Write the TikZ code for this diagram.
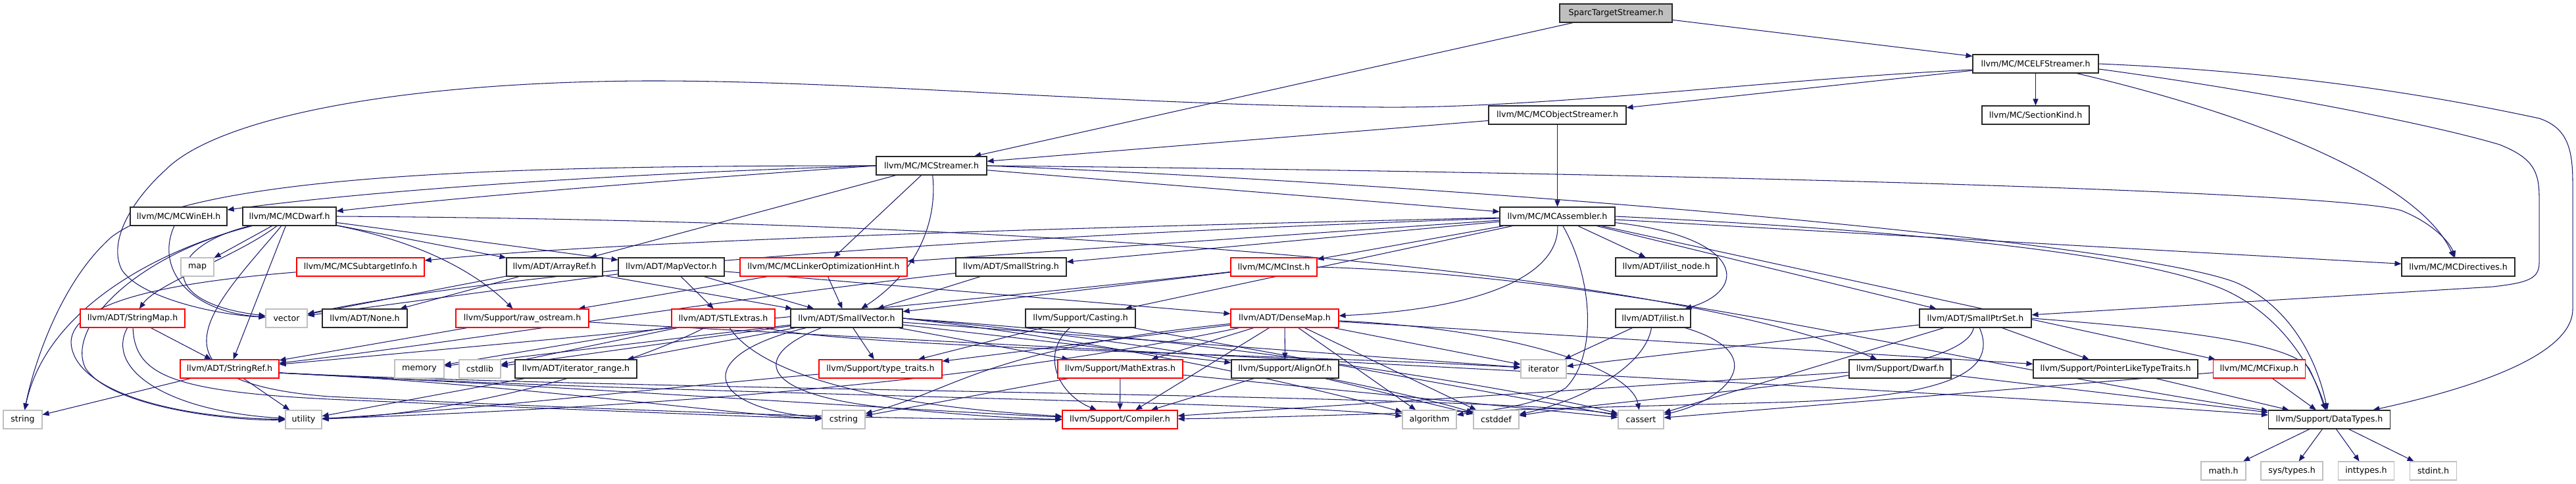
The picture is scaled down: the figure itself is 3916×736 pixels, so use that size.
\documentclass[tikz,border=0pt]{standalone}
\usepackage{fontspec}
\setmainfont{DejaVu Sans}
\usetikzlibrary{arrows.meta}
\definecolor{edgec}{RGB}{25,25,112}
\definecolor{sysgray}{RGB}{191,191,191}
\definecolor{rootfill}{RGB}{191,191,191}
\definecolor{boxline}{RGB}{40,40,40}
\pgfdeclarelayer{back}
\pgfdeclarelayer{bg}
\pgfsetlayers{back,bg,main}
\tikzset{
 box/.style={draw=boxline, line width=1.1pt, fill=white, minimum height=28pt, inner sep=0pt, font=\fontsize{12.6pt}{15pt}\selectfont},
 redbox/.style={box, draw=red},
 sysbox/.style={box, draw=sysgray},
 rootbox/.style={box, fill=rootfill},
 e/.style={draw=edgec, line width=1.05pt, -{Triangle[length=10pt,width=8pt]}},
}
\begin{document}
\begin{tikzpicture}[x=1pt,y=-1pt]
\begin{pgfonlayer}{back}
\fill[white] (0,0) rectangle (3916,736);
\end{pgfonlayer}
\useasboundingbox (0,0) rectangle (3916,736);
% nodes
\node[rootbox, minimum width=171pt] (sparc) at (2456.5,20) {SparcTargetStreamer.h};
\node[box, minimum width=191pt] (elf) at (3094.5,97) {llvm/MC/MCELFStreamer.h};
\node[box, minimum width=163pt] (seckind) at (3094.5,175) {llvm/MC/SectionKind.h};
\node[box, minimum width=209pt] (objs) at (2367.5,175) {llvm/MC/MCObjectStreamer.h};
\node[box, minimum width=168pt] (strm) at (1416,252) {llvm/MC/MCStreamer.h};
\node[box, minimum width=147pt] (wineh) at (271.5,329) {llvm/MC/MCWinEH.h};
\node[box, minimum width=142pt] (mcdwarf) at (440,329) {llvm/MC/MCDwarf.h};
\node[box, minimum width=175pt] (asm) at (2367.5,329) {llvm/MC/MCAssembler.h};
\node[sysbox, minimum width=50pt] (map) at (300,406) {map};
\node[redbox, minimum width=194pt] (subt) at (548,406) {llvm/MC/MCSubtargetInfo.h};
\node[box, minimum width=146pt] (aref) at (843,406) {llvm/ADT/ArrayRef.h};
\node[box, minimum width=161pt] (mapvec) at (1020.5,406) {llvm/ADT/MapVector.h};
\node[redbox, minimum width=254pt] (loh) at (1252,406) {llvm/MC/MCLinkerOptimizationHint.h};
\node[box, minimum width=168pt] (sstr) at (1537,406) {llvm/ADT/SmallString.h};
\node[redbox, minimum width=131pt] (inst) at (1936.5,406) {llvm/MC/MCInst.h};
\node[box, minimum width=154pt] (ilnode) at (2533,406) {llvm/ADT/ilist\_node.h};
\node[box, minimum width=172pt] (dirs) at (3737,406) {llvm/MC/MCDirectives.h};
\node[sysbox, minimum width=63pt] (vector) at (435.5,484) {vector};
\node[box, minimum width=129pt] (none) at (554.5,484) {llvm/ADT/None.h};
\node[redbox, minimum width=202pt] (raw) at (794,484) {llvm/Support/raw\_ostream.h};
\node[redbox, minimum width=159pt] (smap) at (201.5,484) {llvm/ADT/StringMap.h};
\node[redbox, minimum width=157pt] (stlx) at (1099.5,484) {llvm/ADT/STLExtras.h};
\node[box, minimum width=170pt] (svec) at (1287,484) {llvm/ADT/SmallVector.h};
\node[box, minimum width=167pt] (cast) at (1642.5,484) {llvm/Support/Casting.h};
\node[redbox, minimum width=164pt] (dmap) at (1953,484) {llvm/ADT/DenseMap.h};
\node[box, minimum width=114pt] (ilist) at (2513,484) {llvm/ADT/ilist.h};
\node[box, minimum width=170pt] (sps) at (3003,484) {llvm/ADT/SmallPtrSet.h};
\node[redbox, minimum width=150pt] (sref) at (349,561) {llvm/ADT/StringRef.h};
\node[sysbox, minimum width=75pt] (memory) at (637.5,561) {memory};
\node[sysbox, minimum width=63pt] (cstdlib) at (729.5,561) {cstdlib};
\node[box, minimum width=185pt] (itrange) at (875.5,561) {llvm/ADT/iterator\_range.h};
\node[redbox, minimum width=187pt] (ttraits) at (1338.5,561) {llvm/Support/type\_traits.h};
\node[redbox, minimum width=190pt] (mathx) at (1703,561) {llvm/Support/MathExtras.h};
\node[box, minimum width=163pt] (alignof) at (1953.5,561) {llvm/Support/AlignOf.h};
\node[sysbox, minimum width=69pt] (iterator) at (2346.5,561) {iterator};
\node[box, minimum width=155pt] (dwarfh) at (2888.5,561) {llvm/Support/Dwarf.h};
\node[box, minimum width=250pt] (ptrlike) at (3216,561) {llvm/Support/PointerLikeTypeTraits.h};
\node[redbox, minimum width=140pt] (fixup) at (3434.5,561) {llvm/MC/MCFixup.h};
\node[sysbox, minimum width=59pt] (string) at (34.5,638) {string};
\node[sysbox, minimum width=55pt] (utility) at (461.5,638) {utility};
\node[sysbox, minimum width=65pt] (cstring) at (1282.5,638) {cstring};
\node[redbox, minimum width=175pt] (compiler) at (1702.5,638) {llvm/Support/Compiler.h};
\node[sysbox, minimum width=82pt] (algorithm) at (2173,638) {algorithm};
\node[sysbox, minimum width=69pt] (cstddef) at (2274.5,638) {cstddef};
\node[sysbox, minimum width=69pt] (cassert) at (2494.5,638) {cassert};
\node[box, minimum width=185pt] (dtypes) at (3541,638) {llvm/Support/DataTypes.h};
\node[sysbox, minimum width=68pt] (math) at (3380,716) {math.h};
\node[sysbox, minimum width=94pt] (systypes) at (3484,716) {sys/types.h};
\node[sysbox, minimum width=85pt] (inttypes) at (3597,716) {inttypes.h};
\node[sysbox, minimum width=71pt] (stdint) at (3699,716) {stdint.h};
% edges
\begin{pgfonlayer}{bg}
\draw[e] (sparc) -- (strm);
\draw[e] (sparc) -- (elf);
\draw[e] (elf) -- (objs);
\draw[e] (elf) -- (seckind);
\draw[e] (elf) .. controls (3450,180) and (3680,280) .. (dirs);
\draw[e] (elf.east) .. controls (3500,110) and (3720,150) .. (3860,180) .. controls (3905,195) and (3911,230) .. (3911,280) -- (3911,470) .. controls (3911,540) and (3760,590) .. (dtypes);
\draw[e] ([yshift=-8pt]elf.east) .. controls (3450,140) and (3700,190) .. (3800,220) .. controls (3850,240) and (3860,260) .. (3860,300) -- (3860,400) .. controls (3860,425) and (3840,430) .. (3790,436) -- (sps);
\draw[e] ([yshift=-9pt]elf.west) .. controls (2700,120) and (2350,165) .. (2100,163) .. controls (1700,160) and (1300,122) .. (980,123) .. controls (600,125) and (330,180) .. (252,258) .. controls (195,310) and (165,370) .. (185,410) .. controls (210,450) and (320,478) .. (vector);
\draw[e] (objs) -- (strm);
\draw[e] (objs) -- (asm);
% MCStreamer
\draw[e] (strm.west) .. controls (1000,262) and (600,285) .. (wineh);
\draw[e] (strm.west) .. controls (1000,275) and (700,300) .. (mcdwarf);
\draw[e] (strm.west) .. controls (800,252) and (300,262) .. (170,360) .. controls (90,430) and (50,560) .. (string);
\draw[e] (strm) -- (aref);
\draw[e] (strm) -- (loh);
\draw[e] (strm) .. controls (1425,330) and (1400,410) .. (svec);
\draw[e] (strm) -- (asm);
\draw[e] (strm.east) .. controls (2500,262) and (3550,290) .. (3650,320) .. controls (3700,340) and (3725,370) .. (dirs);
\draw[e] (strm.east) .. controls (2300,285) and (3250,370) .. (3400,430) .. controls (3490,470) and (3525,560) .. (dtypes);
% MCAssembler
\draw[e] (asm) .. controls (1900,340) and (1000,360) .. (subt);
\draw[e] (asm) .. controls (1900,345) and (900,385) .. (vector);
\draw[e] (asm) -- (loh);
\draw[e] (asm) -- (sstr);
\draw[e] (asm) -- (inst);
\draw[e] (asm) -- (ilnode);
\draw[e] (asm) .. controls (2650,360) and (2660,440) .. (ilist);
\draw[e] (asm) .. controls (2370,420) and (2250,470) .. (dmap);
\draw[e] (asm) -- (cast);
\draw[e] (asm) .. controls (2420,420) and (2430,540) .. (2380,590) .. controls (2330,620) and (2250,625) .. (algorithm);
\draw[e] (asm) -- (sps);
\draw[e] (asm) -- (dirs);
\draw[e] (asm) -- (fixup);
\draw[e] (asm.east) .. controls (2900,350) and (3250,385) .. (3380,440) .. controls (3470,480) and (3515,560) .. (dtypes);
% MCDwarf
\draw[e] (mcdwarf.east) .. controls (1500,335) and (2500,400) .. (dwarfh);
\draw[e] (mcdwarf) -- (aref);
\draw[e] (mcdwarf) -- (mapvec);
\draw[e] (mcdwarf) .. controls (650,370) and (730,420) .. (raw);
\draw[e] (mcdwarf) -- (map);
\draw[e] (mcdwarf) .. controls (360,390) and (240,430) .. (smap);
\draw[e] (mcdwarf) .. controls (250,375) and (235,460) .. (vector);
\draw[e] (mcdwarf) -- (sref);
\draw[e] (mcdwarf) .. controls (240,380) and (70,470) .. (string);
\draw[e] (mcdwarf) .. controls (330,460) and (200,580) .. (500,603) .. controls (900,622) and (1300,638) .. (compiler);
\draw[e] (mcdwarf) .. controls (200,390) and (100,500) .. (130,560) .. controls (170,620) and (350,640) .. (utility);
\draw[e] (wineh) .. controls (235,410) and (290,475) .. (vector);
\draw[e] (subt) .. controls (250,430) and (110,460) .. (108,520) .. controls (110,590) and (250,635) .. (utility);
% level 4
\draw[e] (aref) -- (vector);
\draw[e] (aref) -- (none);
\draw[e] (aref) -- (svec);
\draw[e] (mapvec) -- (vector);
\draw[e] (mapvec) -- (stlx);
\draw[e] (mapvec) -- (dmap);
\draw[e] (mapvec) -- (svec);
\draw[e] (loh) -- (svec);
\draw[e] (loh) -- (raw);
\draw[e] (sstr) -- (svec);
\draw[e] (sstr) .. controls (1100,455) and (700,520) .. (sref);
\draw[e] (inst) -- (svec);
\draw[e] (inst) .. controls (1500,455) and (800,520) .. (sref);
\draw[e] (inst.east) .. controls (2500,420) and (3000,560) .. (dtypes);
% level 5
\draw[e] (raw) -- (sref);
\draw[e] (raw) .. controls (1500,525) and (2900,590) .. (dtypes);
\draw[e] (smap) -- (sref);
\draw[e] (smap) .. controls (160,560) and (250,625) .. (utility);
\draw[e] (smap) .. controls (205,570) and (260,595) .. (500,607) .. controls (800,620) and (1100,632) .. (cstring);
\draw[e] (svec) -- (itrange);
\draw[e] (svec) -- (memory);
\draw[e] (svec) -- (cstdlib);
\draw[e] (svec) -- (ttraits);
\draw[e] (svec) -- (mathx);
\draw[e] (svec) -- (alignof);
\draw[e] (svec) -- (iterator);
\draw[e] (svec) .. controls (1140,540) and (1150,600) .. (1350,620) .. controls (1450,630) and (1550,637) .. (compiler);
\draw[e] (svec) .. controls (1050,540) and (1070,620) .. (cstring);
\draw[e] (svec.east) .. controls (1700,520) and (2000,590) .. (algorithm);
\draw[e] (svec.east) .. controls (1800,520) and (2150,600) .. (cstddef);
\draw[e] (svec.east) .. controls (1900,520) and (2350,600) .. (cassert);
\draw[e] (stlx) .. controls (1150,560) and (1300,615) .. (compiler);
\draw[e] (stlx) .. controls (950,560) and (700,630) .. (utility);
\draw[e] (stlx) .. controls (1300,530) and (2000,540) .. (iterator);
\draw[e] (stlx) -- (memory);
\draw[e] (stlx) -- (cstdlib);
\draw[e] (cast) -- (ttraits);
\draw[e] (cast) .. controls (1580,540) and (1610,600) .. (compiler);
\draw[e] (cast) -- (cassert);
\draw[e] (dmap) -- (alignof);
\draw[e] (dmap) -- (mathx);
\draw[e] (dmap) -- (compiler);
\draw[e] (dmap) -- (ttraits);
\draw[e] (dmap) .. controls (1500,530) and (1460,590) .. (cstring);
\draw[e] (dmap) -- (algorithm);
\draw[e] (dmap) -- (cstddef);
\draw[e] (dmap) -- (iterator);
\draw[e] (dmap) .. controls (2300,500) and (2480,560) .. (cassert);
\draw[e] (dmap) -- (ptrlike);
\draw[e] (dmap) .. controls (1400,600) and (800,625) .. (utility);
\draw[e] (ilist) -- (iterator);
\draw[e] (ilist) .. controls (2500,560) and (2400,610) .. (cstddef);
\draw[e] (ilist) .. controls (2700,540) and (2620,610) .. (cassert);
\draw[e] (sps) -- (ptrlike);
\draw[e] (sps) -- (iterator);
\draw[e] (sps) -- (cassert);
\draw[e] (sps) .. controls (2985,580) and (2500,600) .. (cstddef);
\draw[e] (sps) .. controls (3040,570) and (2950,605) .. (2700,612) .. controls (2200,625) and (1950,635) .. (compiler);
\draw[e] (sps.east) .. controls (3300,500) and (3480,520) .. (3510,560) .. controls (3525,590) and (3530,610) .. (dtypes);
% level 6
\draw[e] ([yshift=-6pt]sref.east) .. controls (800,585) and (1100,630) .. (cstring);
\draw[e] ([yshift=-6pt]sref.east) .. controls (900,590) and (1400,625) .. (compiler);
\draw[e] ([yshift=-6pt]sref.east) .. controls (1000,600) and (1950,610) .. (algorithm);
\draw[e] ([yshift=-6pt]sref.east) .. controls (1000,595) and (2300,600) .. (cassert);
\draw[e] (sref) -- (string);
\draw[e] (sref) -- (utility);
\draw[e] (itrange) -- (utility);
\draw[e] (ttraits) .. controls (1000,590) and (700,625) .. (utility);
\draw[e] (mathx) -- (compiler);
\draw[e] (mathx) -- (cstring);
\draw[e] (mathx) -- (cassert);
\draw[e] (alignof) -- (compiler);
\draw[e] (alignof) -- (cstddef);
\draw[e] (dwarfh) -- (compiler);
\draw[e] (dwarfh) -- (dtypes);
\draw[e] (ptrlike) -- (dtypes);
\draw[e] (fixup) -- (dtypes);
\draw[e] (fixup) -- (cassert);
\draw[e] (dtypes) -- (math);
\draw[e] (dtypes) -- (systypes);
\draw[e] (dtypes) -- (inttypes);
\draw[e] (dtypes) -- (stdint);
\end{pgfonlayer}
\end{tikzpicture}
\end{document}
